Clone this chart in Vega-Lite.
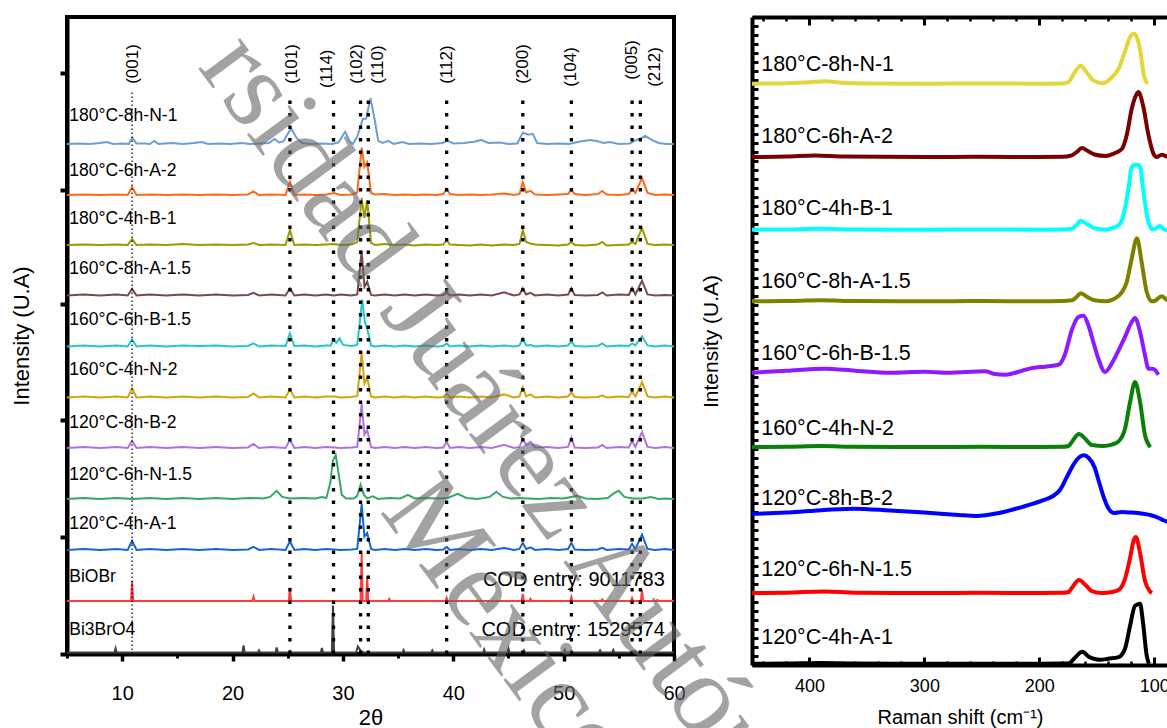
{
"$schema": "https://vega.github.io/schema/vega-lite/v6.json",
"padding": {"left": 8, "top": 11, "right": 0, "bottom": 0},
"config": {"font": "Liberation Sans", "view": {"stroke": null}},
"resolve": {"scale": {"color": "independent"}},
"bounds": "flush",
"spacing": 78,
"datasets": {
 "hkl": [
    {"h":"(001)","x":10.9,"lx":11.0,"zero":0,"top":11.02,"ly":11.18},{"h":"(101)","x":25.2,"lx":25.4,"zero":0,"top":10.94,"ly":11.18},{"h":"(114)","x":29.15,"lx":28.6,"zero":0,"top":10.94,"ly":11.1},{"h":"(102)","x":31.6,"lx":31.3,"zero":0,"top":10.94,"ly":11.18},{"h":"(110)","x":32.3,"lx":33.2,"zero":0,"top":10.94,"ly":11.18},{"h":"(112)","x":39.4,"lx":39.4,"zero":0,"top":10.94,"ly":11.18},{"h":"(200)","x":46.3,"lx":46.3,"zero":0,"top":10.94,"ly":11.18},{"h":"(104)","x":50.7,"lx":50.7,"zero":0,"top":10.94,"ly":11.12},{"h":"(005)","x":56.2,"lx":56.2,"zero":0,"top":10.94,"ly":11.26},{"h":"(212)","x":56.95,"lx":58.3,"zero":0,"top":10.94,"ly":11.12}
 ]
},
"hconcat": [
{
 "width": 607, "height": 637,
 "view": {"stroke": "#000000", "strokeWidth": 4},
 "resolve": {"axis": {"x": "independent", "y": "independent"}},
 "layer": [
  {
   "data": {"values": [
{"s":"a","x":5,"y":10.0},{"s":"a","x":6,"y":10.01},{"s":"a","x":7,"y":10.0},{"s":"a","x":8,"y":10.02},{"s":"a","x":8.6,"y":10.04},{"s":"a","x":9.2,"y":10.0},{"s":"a","x":10,"y":10.01},{"s":"a","x":10.6,"y":10.0},{"s":"a","x":10.9,"y":10.12},{"s":"a","x":11.3,"y":10.01},{"s":"a","x":12,"y":10.01},{"s":"a","x":12.5,"y":10.0},{"s":"a","x":12.9,"y":10.06},{"s":"a","x":13.3,"y":10.0},{"s":"a","x":14.5,"y":10.02},{"s":"a","x":15.5,"y":10.0},{"s":"a","x":16.5,"y":10.02},{"s":"a","x":17.2,"y":10.04},{"s":"a","x":17.8,"y":10.0},{"s":"a","x":18.8,"y":10.01},{"s":"a","x":19.8,"y":10.0},{"s":"a","x":20.8,"y":10.02},{"s":"a","x":21.6,"y":10.0},{"s":"a","x":22.5,"y":10.01},{"s":"a","x":23.3,"y":10.02},{"s":"a","x":23.8,"y":10.1},{"s":"a","x":24.2,"y":10.03},{"s":"a","x":24.6,"y":10.05},{"s":"a","x":25.3,"y":10.31},{"s":"a","x":25.8,"y":10.12},{"s":"a","x":26.3,"y":10.02},{"s":"a","x":27,"y":10.0},{"s":"a","x":28,"y":10.01},{"s":"a","x":29,"y":10.0},{"s":"a","x":29.6,"y":10.03},{"s":"a","x":30.2,"y":10.24},{"s":"a","x":30.6,"y":10.06},{"s":"a","x":30.9,"y":10.0},{"s":"a","x":31.3,"y":10.14},{"s":"a","x":31.8,"y":10.49},{"s":"a","x":32.1,"y":10.5},{"s":"a","x":32.5,"y":10.9},{"s":"a","x":32.9,"y":10.45},{"s":"a","x":33.2,"y":10.06},{"s":"a","x":33.6,"y":10.02},{"s":"a","x":34.1,"y":10.06},{"s":"a","x":34.6,"y":10.0},{"s":"a","x":35.4,"y":10.04},{"s":"a","x":36,"y":10.0},{"s":"a","x":37,"y":10.01},{"s":"a","x":38,"y":10.0},{"s":"a","x":39,"y":10.02},{"s":"a","x":39.5,"y":10.06},{"s":"a","x":40,"y":10.01},{"s":"a","x":41,"y":10.02},{"s":"a","x":42,"y":10.05},{"s":"a","x":42.5,"y":10.08},{"s":"a","x":43.2,"y":10.02},{"s":"a","x":44.2,"y":10.03},{"s":"a","x":45,"y":10.0},{"s":"a","x":45.8,"y":10.01},{"s":"a","x":46.3,"y":10.22},{"s":"a","x":46.8,"y":10.18},{"s":"a","x":47.2,"y":10.2},{"s":"a","x":47.6,"y":10.02},{"s":"a","x":48.5,"y":10.0},{"s":"a","x":49.5,"y":10.01},{"s":"a","x":50.5,"y":10.0},{"s":"a","x":51.5,"y":10.05},{"s":"a","x":52.4,"y":10.08},{"s":"a","x":53,"y":10.06},{"s":"a","x":53.6,"y":10.02},{"s":"a","x":54.2,"y":10.04},{"s":"a","x":55,"y":10.0},{"s":"a","x":56,"y":10.01},{"s":"a","x":56.4,"y":10.06},{"s":"a","x":56.9,"y":10.1},{"s":"a","x":57.4,"y":10.16},{"s":"a","x":58,"y":10.08},{"s":"a","x":58.6,"y":10.02},{"s":"a","x":59.3,"y":10.0},{"s":"a","x":60,"y":10.0},
{"s":"b","x":5,"y":9.0},{"s":"b","x":6.5,"y":9.01},{"s":"b","x":8,"y":9.0},{"s":"b","x":9.5,"y":9.01},{"s":"b","x":10.5,"y":9.0},{"s":"b","x":10.9,"y":9.15},{"s":"b","x":11.3,"y":9.0},{"s":"b","x":12.5,"y":9.01},{"s":"b","x":14,"y":9.0},{"s":"b","x":15.5,"y":9.01},{"s":"b","x":17,"y":9.0},{"s":"b","x":18.5,"y":9.01},{"s":"b","x":20,"y":9.0},{"s":"b","x":21.4,"y":9.01},{"s":"b","x":21.9,"y":9.07},{"s":"b","x":22.4,"y":9.0},{"s":"b","x":23.5,"y":9.01},{"s":"b","x":24.8,"y":9.0},{"s":"b","x":25.2,"y":9.26},{"s":"b","x":25.6,"y":9.0},{"s":"b","x":26.5,"y":9.01},{"s":"b","x":27.5,"y":9.0},{"s":"b","x":28.5,"y":9.01},{"s":"b","x":29.2,"y":9.04},{"s":"b","x":29.8,"y":9.0},{"s":"b","x":30.8,"y":9.01},{"s":"b","x":31.3,"y":9.05},{"s":"b","x":31.7,"y":9.93},{"s":"b","x":31.95,"y":9.55},{"s":"b","x":32.2,"y":9.64},{"s":"b","x":32.55,"y":9.04},{"s":"b","x":32.9,"y":9.01},{"s":"b","x":33.8,"y":9.02},{"s":"b","x":34.7,"y":9.0},{"s":"b","x":35.6,"y":9.01},{"s":"b","x":36.5,"y":9.0},{"s":"b","x":37.5,"y":9.01},{"s":"b","x":38.5,"y":9.0},{"s":"b","x":39.1,"y":9.02},{"s":"b","x":39.4,"y":9.12},{"s":"b","x":39.7,"y":9.02},{"s":"b","x":40.5,"y":9.0},{"s":"b","x":41.5,"y":9.01},{"s":"b","x":42.5,"y":9.0},{"s":"b","x":43.5,"y":9.01},{"s":"b","x":44.6,"y":9.03},{"s":"b","x":45.5,"y":9.0},{"s":"b","x":46.0,"y":9.02},{"s":"b","x":46.3,"y":9.25},{"s":"b","x":46.6,"y":9.05},{"s":"b","x":47.0,"y":9.08},{"s":"b","x":47.4,"y":9.01},{"s":"b","x":48.5,"y":9.0},{"s":"b","x":49.5,"y":9.01},{"s":"b","x":50.4,"y":9.02},{"s":"b","x":50.7,"y":9.1},{"s":"b","x":51.0,"y":9.02},{"s":"b","x":52,"y":9.0},{"s":"b","x":53.1,"y":9.02},{"s":"b","x":53.5,"y":9.08},{"s":"b","x":53.9,"y":9.01},{"s":"b","x":55,"y":9.0},{"s":"b","x":55.9,"y":9.02},{"s":"b","x":56.2,"y":9.12},{"s":"b","x":56.5,"y":9.04},{"s":"b","x":57.1,"y":9.33},{"s":"b","x":57.6,"y":9.04},{"s":"b","x":58.3,"y":9.0},{"s":"b","x":59.2,"y":9.01},{"s":"b","x":60,"y":9.0},
{"s":"c","x":5,"y":8.02},{"s":"c","x":6.5,"y":8.03},{"s":"c","x":8,"y":8.02},{"s":"c","x":9.5,"y":8.03},{"s":"c","x":10.5,"y":8.02},{"s":"c","x":10.9,"y":8.14},{"s":"c","x":11.3,"y":8.02},{"s":"c","x":12.5,"y":8.03},{"s":"c","x":14,"y":8.02},{"s":"c","x":15.5,"y":8.04},{"s":"c","x":17,"y":8.02},{"s":"c","x":18.5,"y":8.03},{"s":"c","x":20,"y":8.02},{"s":"c","x":21.4,"y":8.03},{"s":"c","x":21.9,"y":8.06},{"s":"c","x":22.4,"y":8.02},{"s":"c","x":23.5,"y":8.03},{"s":"c","x":24.8,"y":8.02},{"s":"c","x":25.2,"y":8.31},{"s":"c","x":25.6,"y":8.02},{"s":"c","x":26.5,"y":8.03},{"s":"c","x":27.5,"y":8.02},{"s":"c","x":28.5,"y":8.03},{"s":"c","x":29.2,"y":8.04},{"s":"c","x":29.8,"y":8.02},{"s":"c","x":30.8,"y":8.03},{"s":"c","x":31.3,"y":8.08},{"s":"c","x":31.7,"y":8.94},{"s":"c","x":31.95,"y":8.55},{"s":"c","x":32.2,"y":8.9},{"s":"c","x":32.55,"y":8.06},{"s":"c","x":32.9,"y":8.02},{"s":"c","x":33.8,"y":8.04},{"s":"c","x":34.7,"y":8.02},{"s":"c","x":35.6,"y":8.03},{"s":"c","x":36.5,"y":8.01},{"s":"c","x":37.5,"y":8.03},{"s":"c","x":38.5,"y":8.02},{"s":"c","x":39.1,"y":8.03},{"s":"c","x":39.4,"y":8.12},{"s":"c","x":39.7,"y":8.03},{"s":"c","x":40.5,"y":8.02},{"s":"c","x":41.5,"y":8.01},{"s":"c","x":42.5,"y":8.03},{"s":"c","x":43.5,"y":8.01},{"s":"c","x":44.6,"y":8.03},{"s":"c","x":45.5,"y":8.02},{"s":"c","x":46.0,"y":8.04},{"s":"c","x":46.3,"y":8.31},{"s":"c","x":46.6,"y":8.08},{"s":"c","x":47.0,"y":8.05},{"s":"c","x":47.4,"y":8.03},{"s":"c","x":48.5,"y":8.02},{"s":"c","x":49.5,"y":8.01},{"s":"c","x":50.4,"y":8.03},{"s":"c","x":50.7,"y":8.08},{"s":"c","x":51.0,"y":8.02},{"s":"c","x":52,"y":8.01},{"s":"c","x":53.1,"y":8.03},{"s":"c","x":53.5,"y":8.08},{"s":"c","x":53.9,"y":8.01},{"s":"c","x":55,"y":8.02},{"s":"c","x":55.9,"y":8.03},{"s":"c","x":56.2,"y":8.08},{"s":"c","x":56.5,"y":8.04},{"s":"c","x":57.1,"y":8.35},{"s":"c","x":57.6,"y":8.04},{"s":"c","x":58.3,"y":8.02},{"s":"c","x":59.2,"y":8.03},{"s":"c","x":60,"y":8.02},
{"s":"d","x":5,"y":7.03},{"s":"d","x":6.5,"y":7.05},{"s":"d","x":8,"y":7.03},{"s":"d","x":9.5,"y":7.05},{"s":"d","x":10.5,"y":7.03},{"s":"d","x":10.9,"y":7.16},{"s":"d","x":11.3,"y":7.03},{"s":"d","x":12.5,"y":7.05},{"s":"d","x":14,"y":7.03},{"s":"d","x":15.5,"y":7.05},{"s":"d","x":17,"y":7.03},{"s":"d","x":18.5,"y":7.05},{"s":"d","x":20,"y":7.03},{"s":"d","x":21.4,"y":7.04},{"s":"d","x":21.9,"y":7.08},{"s":"d","x":22.4,"y":7.03},{"s":"d","x":23.5,"y":7.05},{"s":"d","x":24.8,"y":7.03},{"s":"d","x":25.2,"y":7.17},{"s":"d","x":25.6,"y":7.03},{"s":"d","x":26.5,"y":7.05},{"s":"d","x":27.5,"y":7.03},{"s":"d","x":28.5,"y":7.05},{"s":"d","x":29.2,"y":7.03},{"s":"d","x":29.8,"y":7.05},{"s":"d","x":30.8,"y":7.03},{"s":"d","x":31.3,"y":7.05},{"s":"d","x":31.7,"y":7.91},{"s":"d","x":31.95,"y":7.2},{"s":"d","x":32.2,"y":7.3},{"s":"d","x":32.55,"y":7.04},{"s":"d","x":32.9,"y":7.03},{"s":"d","x":33.8,"y":7.05},{"s":"d","x":34.7,"y":7.03},{"s":"d","x":35.6,"y":7.05},{"s":"d","x":36.5,"y":7.03},{"s":"d","x":37.5,"y":7.05},{"s":"d","x":38.5,"y":7.03},{"s":"d","x":39.1,"y":7.04},{"s":"d","x":39.4,"y":7.09},{"s":"d","x":39.7,"y":7.03},{"s":"d","x":40.5,"y":7.05},{"s":"d","x":41.5,"y":7.03},{"s":"d","x":42.5,"y":7.05},{"s":"d","x":43.5,"y":7.03},{"s":"d","x":44.6,"y":7.09},{"s":"d","x":45.5,"y":7.03},{"s":"d","x":46.0,"y":7.05},{"s":"d","x":46.3,"y":7.17},{"s":"d","x":46.6,"y":7.05},{"s":"d","x":47.0,"y":7.08},{"s":"d","x":47.4,"y":7.03},{"s":"d","x":48.5,"y":7.05},{"s":"d","x":49.5,"y":7.03},{"s":"d","x":50.4,"y":7.05},{"s":"d","x":50.7,"y":7.17},{"s":"d","x":51.0,"y":7.04},{"s":"d","x":52,"y":7.03},{"s":"d","x":53.1,"y":7.04},{"s":"d","x":53.5,"y":7.09},{"s":"d","x":53.9,"y":7.03},{"s":"d","x":55,"y":7.05},{"s":"d","x":55.9,"y":7.04},{"s":"d","x":56.2,"y":7.18},{"s":"d","x":56.5,"y":7.05},{"s":"d","x":57.1,"y":7.32},{"s":"d","x":57.6,"y":7.05},{"s":"d","x":58.3,"y":7.03},{"s":"d","x":59.2,"y":7.04},{"s":"d","x":60,"y":7.03},
{"s":"e","x":5,"y":6.03},{"s":"e","x":6.5,"y":6.05},{"s":"e","x":8,"y":6.03},{"s":"e","x":9.5,"y":6.05},{"s":"e","x":10.5,"y":6.03},{"s":"e","x":10.9,"y":6.17},{"s":"e","x":11.3,"y":6.03},{"s":"e","x":12.5,"y":6.05},{"s":"e","x":14,"y":6.03},{"s":"e","x":15.5,"y":6.05},{"s":"e","x":17,"y":6.04},{"s":"e","x":18.5,"y":6.05},{"s":"e","x":20,"y":6.03},{"s":"e","x":21.4,"y":6.04},{"s":"e","x":21.9,"y":6.09},{"s":"e","x":22.4,"y":6.03},{"s":"e","x":23.5,"y":6.05},{"s":"e","x":24.8,"y":6.04},{"s":"e","x":25.2,"y":6.29},{"s":"e","x":25.6,"y":6.04},{"s":"e","x":26.5,"y":6.05},{"s":"e","x":27.5,"y":6.03},{"s":"e","x":28.5,"y":6.05},{"s":"e","x":28.9,"y":6.05},{"s":"e","x":29.15,"y":6.17},{"s":"e","x":29.4,"y":6.1},{"s":"e","x":29.7,"y":6.19},{"s":"e","x":30.0,"y":6.06},{"s":"e","x":30.8,"y":6.04},{"s":"e","x":31.3,"y":6.06},{"s":"e","x":31.75,"y":6.95},{"s":"e","x":32.0,"y":6.5},{"s":"e","x":32.2,"y":6.38},{"s":"e","x":32.55,"y":6.05},{"s":"e","x":32.9,"y":6.03},{"s":"e","x":33.8,"y":6.05},{"s":"e","x":34.7,"y":6.03},{"s":"e","x":35.6,"y":6.05},{"s":"e","x":36.5,"y":6.03},{"s":"e","x":37.5,"y":6.05},{"s":"e","x":38.5,"y":6.03},{"s":"e","x":39.1,"y":6.04},{"s":"e","x":39.4,"y":6.09},{"s":"e","x":39.7,"y":6.03},{"s":"e","x":40.5,"y":6.05},{"s":"e","x":41.5,"y":6.03},{"s":"e","x":42.5,"y":6.05},{"s":"e","x":43.5,"y":6.03},{"s":"e","x":44.6,"y":6.05},{"s":"e","x":45.5,"y":6.03},{"s":"e","x":46.0,"y":6.05},{"s":"e","x":46.3,"y":6.19},{"s":"e","x":46.6,"y":6.05},{"s":"e","x":47.0,"y":6.06},{"s":"e","x":47.4,"y":6.03},{"s":"e","x":48.5,"y":6.05},{"s":"e","x":49.5,"y":6.03},{"s":"e","x":50.4,"y":6.05},{"s":"e","x":50.7,"y":6.13},{"s":"e","x":51.0,"y":6.04},{"s":"e","x":52,"y":6.03},{"s":"e","x":53.1,"y":6.04},{"s":"e","x":53.5,"y":6.09},{"s":"e","x":53.9,"y":6.03},{"s":"e","x":55,"y":6.05},{"s":"e","x":55.9,"y":6.04},{"s":"e","x":56.2,"y":6.09},{"s":"e","x":56.5,"y":6.05},{"s":"e","x":57.1,"y":6.23},{"s":"e","x":57.6,"y":6.05},{"s":"e","x":58.3,"y":6.03},{"s":"e","x":59.2,"y":6.05},{"s":"e","x":60,"y":6.03},
{"s":"f","x":5,"y":5.03},{"s":"f","x":6.5,"y":5.05},{"s":"f","x":8,"y":5.03},{"s":"f","x":9.5,"y":5.05},{"s":"f","x":10.5,"y":5.03},{"s":"f","x":10.9,"y":5.21},{"s":"f","x":11.3,"y":5.03},{"s":"f","x":12.5,"y":5.05},{"s":"f","x":14,"y":5.03},{"s":"f","x":15.5,"y":5.05},{"s":"f","x":17,"y":5.03},{"s":"f","x":18.5,"y":5.05},{"s":"f","x":20,"y":5.03},{"s":"f","x":21.4,"y":5.04},{"s":"f","x":21.9,"y":5.11},{"s":"f","x":22.4,"y":5.03},{"s":"f","x":23.5,"y":5.05},{"s":"f","x":24.8,"y":5.03},{"s":"f","x":25.2,"y":5.19},{"s":"f","x":25.6,"y":5.03},{"s":"f","x":26.5,"y":5.05},{"s":"f","x":27.5,"y":5.03},{"s":"f","x":28.5,"y":5.05},{"s":"f","x":29.2,"y":5.05},{"s":"f","x":29.8,"y":5.03},{"s":"f","x":30.8,"y":5.04},{"s":"f","x":31.3,"y":5.06},{"s":"f","x":31.7,"y":5.91},{"s":"f","x":31.95,"y":5.3},{"s":"f","x":32.2,"y":5.42},{"s":"f","x":32.55,"y":5.05},{"s":"f","x":32.9,"y":5.03},{"s":"f","x":33.8,"y":5.05},{"s":"f","x":34.7,"y":5.03},{"s":"f","x":35.6,"y":5.05},{"s":"f","x":36.5,"y":5.03},{"s":"f","x":37.5,"y":5.05},{"s":"f","x":38.5,"y":5.03},{"s":"f","x":39.1,"y":5.04},{"s":"f","x":39.4,"y":5.11},{"s":"f","x":39.7,"y":5.03},{"s":"f","x":40.5,"y":5.05},{"s":"f","x":41.5,"y":5.03},{"s":"f","x":42.5,"y":5.05},{"s":"f","x":43.5,"y":5.03},{"s":"f","x":44.6,"y":5.09},{"s":"f","x":45.5,"y":5.03},{"s":"f","x":46.0,"y":5.05},{"s":"f","x":46.3,"y":5.23},{"s":"f","x":46.6,"y":5.05},{"s":"f","x":47.0,"y":5.09},{"s":"f","x":47.4,"y":5.03},{"s":"f","x":48.5,"y":5.05},{"s":"f","x":49.5,"y":5.03},{"s":"f","x":50.4,"y":5.05},{"s":"f","x":50.7,"y":5.13},{"s":"f","x":51.0,"y":5.04},{"s":"f","x":52,"y":5.03},{"s":"f","x":53.1,"y":5.04},{"s":"f","x":53.5,"y":5.07},{"s":"f","x":53.9,"y":5.03},{"s":"f","x":55,"y":5.05},{"s":"f","x":55.9,"y":5.04},{"s":"f","x":56.2,"y":5.15},{"s":"f","x":56.5,"y":5.05},{"s":"f","x":57.1,"y":5.33},{"s":"f","x":57.6,"y":5.05},{"s":"f","x":58.3,"y":5.03},{"s":"f","x":59.2,"y":5.05},{"s":"f","x":60,"y":5.03},
{"s":"g","x":5,"y":4.04},{"s":"g","x":6.5,"y":4.06},{"s":"g","x":8,"y":4.04},{"s":"g","x":9.5,"y":4.06},{"s":"g","x":10.5,"y":4.04},{"s":"g","x":10.9,"y":4.18},{"s":"g","x":11.3,"y":4.04},{"s":"g","x":12.5,"y":4.06},{"s":"g","x":14,"y":4.04},{"s":"g","x":15.5,"y":4.06},{"s":"g","x":17,"y":4.04},{"s":"g","x":18.5,"y":4.06},{"s":"g","x":20,"y":4.04},{"s":"g","x":21.4,"y":4.05},{"s":"g","x":21.9,"y":4.12},{"s":"g","x":22.4,"y":4.04},{"s":"g","x":23.5,"y":4.06},{"s":"g","x":24.8,"y":4.04},{"s":"g","x":25.2,"y":4.2},{"s":"g","x":25.6,"y":4.04},{"s":"g","x":26.5,"y":4.06},{"s":"g","x":27.5,"y":4.04},{"s":"g","x":28.5,"y":4.06},{"s":"g","x":29.2,"y":4.05},{"s":"g","x":29.8,"y":4.04},{"s":"g","x":30.8,"y":4.05},{"s":"g","x":31.3,"y":4.06},{"s":"g","x":31.7,"y":4.9},{"s":"g","x":31.95,"y":4.3},{"s":"g","x":32.2,"y":4.39},{"s":"g","x":32.55,"y":4.06},{"s":"g","x":32.9,"y":4.04},{"s":"g","x":33.8,"y":4.06},{"s":"g","x":34.7,"y":4.04},{"s":"g","x":35.6,"y":4.06},{"s":"g","x":36.5,"y":4.04},{"s":"g","x":37.5,"y":4.06},{"s":"g","x":38.5,"y":4.04},{"s":"g","x":39.1,"y":4.05},{"s":"g","x":39.4,"y":4.16},{"s":"g","x":39.7,"y":4.04},{"s":"g","x":40.5,"y":4.06},{"s":"g","x":41.5,"y":4.04},{"s":"g","x":42.5,"y":4.06},{"s":"g","x":43.5,"y":4.04},{"s":"g","x":44.6,"y":4.1},{"s":"g","x":45.5,"y":4.04},{"s":"g","x":46.0,"y":4.06},{"s":"g","x":46.3,"y":4.22},{"s":"g","x":46.6,"y":4.1},{"s":"g","x":47.0,"y":4.16},{"s":"g","x":47.4,"y":4.05},{"s":"g","x":48.5,"y":4.06},{"s":"g","x":49.5,"y":4.04},{"s":"g","x":50.4,"y":4.06},{"s":"g","x":50.7,"y":4.24},{"s":"g","x":51.0,"y":4.05},{"s":"g","x":52,"y":4.04},{"s":"g","x":53.1,"y":4.05},{"s":"g","x":53.5,"y":4.1},{"s":"g","x":53.9,"y":4.04},{"s":"g","x":55,"y":4.06},{"s":"g","x":55.9,"y":4.05},{"s":"g","x":56.2,"y":4.18},{"s":"g","x":56.5,"y":4.06},{"s":"g","x":57.1,"y":4.35},{"s":"g","x":57.6,"y":4.06},{"s":"g","x":58.3,"y":4.04},{"s":"g","x":59.2,"y":4.06},{"s":"g","x":60,"y":4.04},
{"s":"h","x":5,"y":3.04},{"s":"h","x":6.5,"y":3.06},{"s":"h","x":8,"y":3.04},{"s":"h","x":9.5,"y":3.06},{"s":"h","x":11,"y":3.04},{"s":"h","x":12.5,"y":3.06},{"s":"h","x":14,"y":3.04},{"s":"h","x":15.5,"y":3.06},{"s":"h","x":17,"y":3.04},{"s":"h","x":18.5,"y":3.06},{"s":"h","x":20,"y":3.04},{"s":"h","x":21.5,"y":3.06},{"s":"h","x":22.8,"y":3.05},{"s":"h","x":23.4,"y":3.08},{"s":"h","x":24.0,"y":3.2},{"s":"h","x":24.5,"y":3.08},{"s":"h","x":25.2,"y":3.05},{"s":"h","x":26.5,"y":3.06},{"s":"h","x":27.5,"y":3.05},{"s":"h","x":28.1,"y":3.08},{"s":"h","x":28.5,"y":3.06},{"s":"h","x":28.85,"y":3.35},{"s":"h","x":29.1,"y":3.8},{"s":"h","x":29.35,"y":3.9},{"s":"h","x":29.6,"y":3.55},{"s":"h","x":29.9,"y":3.12},{"s":"h","x":30.3,"y":3.05},{"s":"h","x":31.0,"y":3.05},{"s":"h","x":31.3,"y":3.1},{"s":"h","x":31.6,"y":3.32},{"s":"h","x":31.9,"y":3.12},{"s":"h","x":32.2,"y":3.05},{"s":"h","x":32.7,"y":3.09},{"s":"h","x":33.2,"y":3.04},{"s":"h","x":34.2,"y":3.06},{"s":"h","x":35.2,"y":3.05},{"s":"h","x":35.9,"y":3.12},{"s":"h","x":36.5,"y":3.05},{"s":"h","x":37.5,"y":3.06},{"s":"h","x":38.5,"y":3.05},{"s":"h","x":39.5,"y":3.06},{"s":"h","x":40.4,"y":3.14},{"s":"h","x":41.2,"y":3.06},{"s":"h","x":42.2,"y":3.04},{"s":"h","x":43.3,"y":3.08},{"s":"h","x":43.9,"y":3.18},{"s":"h","x":44.5,"y":3.08},{"s":"h","x":45.2,"y":3.05},{"s":"h","x":46.0,"y":3.06},{"s":"h","x":46.8,"y":3.05},{"s":"h","x":47.8,"y":3.04},{"s":"h","x":48.8,"y":3.06},{"s":"h","x":50.0,"y":3.05},{"s":"h","x":51.2,"y":3.1},{"s":"h","x":52.0,"y":3.05},{"s":"h","x":53.0,"y":3.04},{"s":"h","x":54.0,"y":3.06},{"s":"h","x":54.6,"y":3.16},{"s":"h","x":55.0,"y":3.2},{"s":"h","x":55.5,"y":3.08},{"s":"h","x":56.3,"y":3.05},{"s":"h","x":57.2,"y":3.05},{"s":"h","x":57.9,"y":3.08},{"s":"h","x":58.6,"y":3.04},{"s":"h","x":59.3,"y":3.05},{"s":"h","x":60,"y":3.04},
{"s":"i","x":5,"y":2.04},{"s":"i","x":6.5,"y":2.06},{"s":"i","x":8,"y":2.04},{"s":"i","x":9.5,"y":2.06},{"s":"i","x":10.5,"y":2.04},{"s":"i","x":10.9,"y":2.22},{"s":"i","x":11.3,"y":2.04},{"s":"i","x":12.5,"y":2.06},{"s":"i","x":14,"y":2.04},{"s":"i","x":15.5,"y":2.06},{"s":"i","x":17,"y":2.04},{"s":"i","x":18.5,"y":2.06},{"s":"i","x":20,"y":2.04},{"s":"i","x":21.4,"y":2.05},{"s":"i","x":21.9,"y":2.1},{"s":"i","x":22.4,"y":2.04},{"s":"i","x":23.5,"y":2.06},{"s":"i","x":24.8,"y":2.04},{"s":"i","x":25.2,"y":2.21},{"s":"i","x":25.6,"y":2.04},{"s":"i","x":26.5,"y":2.06},{"s":"i","x":27.5,"y":2.04},{"s":"i","x":28.5,"y":2.06},{"s":"i","x":29.2,"y":2.05},{"s":"i","x":29.8,"y":2.04},{"s":"i","x":30.8,"y":2.05},{"s":"i","x":31.3,"y":2.06},{"s":"i","x":31.7,"y":2.94},{"s":"i","x":31.95,"y":2.3},{"s":"i","x":32.2,"y":2.37},{"s":"i","x":32.55,"y":2.06},{"s":"i","x":32.9,"y":2.04},{"s":"i","x":33.8,"y":2.06},{"s":"i","x":34.7,"y":2.04},{"s":"i","x":35.6,"y":2.06},{"s":"i","x":36.5,"y":2.04},{"s":"i","x":37.5,"y":2.06},{"s":"i","x":38.5,"y":2.04},{"s":"i","x":39.1,"y":2.05},{"s":"i","x":39.4,"y":2.1},{"s":"i","x":39.7,"y":2.04},{"s":"i","x":40.5,"y":2.06},{"s":"i","x":41.5,"y":2.04},{"s":"i","x":42.5,"y":2.06},{"s":"i","x":43.5,"y":2.04},{"s":"i","x":44.6,"y":2.08},{"s":"i","x":45.5,"y":2.04},{"s":"i","x":46.0,"y":2.06},{"s":"i","x":46.3,"y":2.18},{"s":"i","x":46.6,"y":2.06},{"s":"i","x":47.0,"y":2.09},{"s":"i","x":47.4,"y":2.04},{"s":"i","x":48.5,"y":2.06},{"s":"i","x":49.5,"y":2.04},{"s":"i","x":50.4,"y":2.06},{"s":"i","x":50.7,"y":2.18},{"s":"i","x":51.0,"y":2.05},{"s":"i","x":52,"y":2.04},{"s":"i","x":53.1,"y":2.05},{"s":"i","x":53.5,"y":2.08},{"s":"i","x":53.9,"y":2.04},{"s":"i","x":55,"y":2.06},{"s":"i","x":55.9,"y":2.05},{"s":"i","x":56.2,"y":2.16},{"s":"i","x":56.5,"y":2.06},{"s":"i","x":57.1,"y":2.34},{"s":"i","x":57.6,"y":2.06},{"s":"i","x":58.3,"y":2.04},{"s":"i","x":59.2,"y":2.06},{"s":"i","x":60,"y":2.04},
{"s":"j","x":5,"y":1.04},{"s":"j","x":10.8,"y":1.04},{"s":"j","x":10.9,"y":1.43},{"s":"j","x":11.0,"y":1.04},{"s":"j","x":21.8,"y":1.04},{"s":"j","x":21.9,"y":1.12},{"s":"j","x":22.0,"y":1.04},{"s":"j","x":25.1,"y":1.04},{"s":"j","x":25.2,"y":1.3},{"s":"j","x":25.3,"y":1.04},{"s":"j","x":31.6,"y":1.04},{"s":"j","x":31.7,"y":1.98},{"s":"j","x":31.8,"y":1.04},{"s":"j","x":32.1,"y":1.04},{"s":"j","x":32.2,"y":1.52},{"s":"j","x":32.3,"y":1.04},{"s":"j","x":34.1,"y":1.04},{"s":"j","x":34.2,"y":1.08},{"s":"j","x":34.3,"y":1.04},{"s":"j","x":39.3,"y":1.04},{"s":"j","x":39.4,"y":1.1},{"s":"j","x":39.5,"y":1.04},{"s":"j","x":46.2,"y":1.04},{"s":"j","x":46.3,"y":1.18},{"s":"j","x":46.4,"y":1.04},{"s":"j","x":46.9,"y":1.04},{"s":"j","x":47.0,"y":1.08},{"s":"j","x":47.1,"y":1.04},{"s":"j","x":50.6,"y":1.04},{"s":"j","x":50.7,"y":1.12},{"s":"j","x":50.8,"y":1.04},{"s":"j","x":53.4,"y":1.04},{"s":"j","x":53.5,"y":1.07},{"s":"j","x":53.6,"y":1.04},{"s":"j","x":56.1,"y":1.04},{"s":"j","x":56.2,"y":1.1},{"s":"j","x":56.3,"y":1.04},{"s":"j","x":57.0,"y":1.04},{"s":"j","x":57.1,"y":1.26},{"s":"j","x":57.2,"y":1.04},{"s":"j","x":58.4,"y":1.04},{"s":"j","x":58.5,"y":1.06},{"s":"j","x":58.6,"y":1.04},{"s":"j","x":60,"y":1.04},
{"s":"k","x":5,"y":0.03},{"s":"k","x":9.3,"y":0.03},{"s":"k","x":9.4,"y":0.11},{"s":"k","x":9.5,"y":0.03},{"s":"k","x":20.9,"y":0.03},{"s":"k","x":21.0,"y":0.17},{"s":"k","x":21.1,"y":0.03},{"s":"k","x":22.3,"y":0.03},{"s":"k","x":22.4,"y":0.07},{"s":"k","x":22.5,"y":0.03},{"s":"k","x":23.9,"y":0.03},{"s":"k","x":24.0,"y":0.13},{"s":"k","x":24.1,"y":0.03},{"s":"k","x":25.1,"y":0.03},{"s":"k","x":25.2,"y":0.06},{"s":"k","x":25.3,"y":0.03},{"s":"k","x":28.0,"y":0.03},{"s":"k","x":28.1,"y":0.12},{"s":"k","x":28.2,"y":0.03},{"s":"k","x":29.0,"y":0.03},{"s":"k","x":29.1,"y":0.95},{"s":"k","x":29.2,"y":0.03},{"s":"k","x":31.2,"y":0.03},{"s":"k","x":31.35,"y":0.15},{"s":"k","x":31.5,"y":0.1},{"s":"k","x":31.65,"y":0.05},{"s":"k","x":31.9,"y":0.03},{"s":"k","x":35.4,"y":0.03},{"s":"k","x":35.5,"y":0.08},{"s":"k","x":35.6,"y":0.03},{"s":"k","x":38.0,"y":0.03},{"s":"k","x":38.1,"y":0.07},{"s":"k","x":38.2,"y":0.03},{"s":"k","x":42.7,"y":0.03},{"s":"k","x":42.8,"y":0.09},{"s":"k","x":42.9,"y":0.03},{"s":"k","x":44.9,"y":0.03},{"s":"k","x":45.0,"y":0.11},{"s":"k","x":45.1,"y":0.03},{"s":"k","x":46.3,"y":0.03},{"s":"k","x":46.4,"y":0.07},{"s":"k","x":46.5,"y":0.03},{"s":"k","x":50.0,"y":0.03},{"s":"k","x":50.1,"y":0.08},{"s":"k","x":50.2,"y":0.03},{"s":"k","x":53.2,"y":0.03},{"s":"k","x":53.3,"y":0.07},{"s":"k","x":53.4,"y":0.03},{"s":"k","x":54.4,"y":0.03},{"s":"k","x":54.5,"y":0.08},{"s":"k","x":54.6,"y":0.03},{"s":"k","x":56.4,"y":0.03},{"s":"k","x":56.5,"y":0.06},{"s":"k","x":56.6,"y":0.03},{"s":"k","x":60,"y":0.03}
   ]},
   "mark": {"type": "line", "strokeWidth": 2, "interpolate": "linear"},
   "encoding": {
    "x": {"field": "x", "type": "quantitative", "scale": {"domain": [5, 60], "nice": false, "zero": false},
      "axis": {"orient": "bottom", "values": [10, 20, 30, 40, 50, 60], "tickSize": 7, "tickWidth": 3.5, "tickColor": "#000", "domainColor": "#000", "domainWidth": 4, "grid": false, "labelFontSize": 20, "labelColor": "#000", "labelPadding": 22, "labelFlush": false, "title": "2θ", "titleFontSize": 22, "titleFontWeight": "normal", "titleColor": "#000", "titlePadding": 4}},
    "y": {"field": "y", "type": "quantitative", "scale": {"domain": [0, 12.49], "nice": false, "zero": false},
      "axis": {"orient": "left", "values": [0, 2.29, 4.58, 6.87, 9.1, 11.4], "tickSize": 7, "tickWidth": 4, "tickColor": "#000", "domainColor": "#000", "domainWidth": 4, "grid": false, "labels": false, "title": "Intensity (U.A)", "titleFontSize": 22, "titleFontWeight": "normal", "titleColor": "#000", "titlePadding": 25}},
    "color": {"field": "s", "type": "nominal", "legend": null,
      "scale": {"domain": ["a","b","c","d","e","f","g","h","i","j","k"], "range": ["#6b9fd3","#ff6a1a","#9a9a00","#7a4a4a","#25c7c7","#d6a30c","#b070e0","#35a866","#1565d8","#ff3c3c","#404040"]}}
   }
  },
  {
   "data": {"name": "hkl"},
   "transform": [{"filter": "datum.h !== '(001)'"}],
   "mark": {"type": "rule", "color": "#000", "strokeWidth": 3.3, "strokeDash": [3.5, 9]},
   "encoding": {
    "x": {"field": "x", "type": "quantitative", "axis": {"orient": "bottom", "values": [5, 15, 25, 35, 45, 55], "tickSize": 4, "tickWidth": 3, "tickColor": "#000", "domain": false, "labels": false, "grid": false, "title": null}},
    "y": {"field": "zero", "type": "quantitative", "axis": null},
    "y2": {"field": "top"}
   }
  },
  {
   "data": {"name": "hkl"},
   "transform": [{"filter": "datum.h === '(001)'"}],
   "mark": {"type": "rule", "color": "#000", "strokeWidth": 1.2, "strokeDash": [1.5, 2.5]},
   "encoding": {
    "x": {"field": "x", "type": "quantitative", "axis": null},
    "y": {"field": "zero", "type": "quantitative", "axis": null},
    "y2": {"field": "top"}
   }
  },
  {
   "data": {"name": "hkl"},
   "mark": {"type": "text", "angle": 270, "align": "left", "baseline": "middle", "fontSize": 17, "color": "#000"},
   "encoding": {
    "x": {"field": "lx", "type": "quantitative", "axis": null},
    "y": {"field": "ly", "type": "quantitative", "axis": null},
    "text": {"field": "h", "type": "nominal"}
   }
  },
  {
   "data": {"values": [
    {"name":"180°C-8h-N-1","y":10.55},{"name":"180°C-6h-A-2","y":9.47},{"name":"180°C-4h-B-1","y":8.53},{"name":"160°C-8h-A-1.5","y":7.55},{"name":"160°C-6h-B-1.5","y":6.55},{"name":"160°C-4h-N-2","y":5.57},{"name":"120°C-8h-B-2","y":4.53},{"name":"120°C-6h-N-1.5","y":3.51},{"name":"120°C-4h-A-1","y":2.55},{"name":"BiOBr","y":1.51},{"name":"Bi3BrO4","y":0.47}
   ]},
   "mark": {"type": "text", "align": "left", "baseline": "middle", "fontSize": 17.5, "color": "#000"},
   "encoding": {
    "x": {"datum": 5.2, "type": "quantitative", "axis": null},
    "y": {"field": "y", "type": "quantitative", "axis": null},
    "text": {"field": "name", "type": "nominal"}
   }
  },
  {
   "data": {"values": [{"t":"COD entry: 9011783","y":1.45},{"t":"COD entry: 1529574","y":0.47}]},
   "mark": {"type": "text", "align": "right", "baseline": "middle", "fontSize": 20, "color": "#000"},
   "encoding": {
    "x": {"datum": 59.17, "type": "quantitative", "axis": null},
    "y": {"field": "y", "type": "quantitative", "axis": null},
    "text": {"field": "t", "type": "nominal"}
   }
  },
  {
   "data": {"values": [{"w":"rsidad Juárez Autónoma","x":16.78,"y":11.51},{"w":"México","x":33.26,"y":2.8}]},
   "mark": {"type": "text", "align": "left", "baseline": "alphabetic", "angle": 53.5, "font": "Liberation Serif", "fontSize": 113, "color": "#666666", "opacity": 0.6},
   "encoding": {
    "x": {"field": "x", "type": "quantitative", "axis": null},
    "y": {"field": "y", "type": "quantitative", "axis": null},
    "text": {"field": "w", "type": "nominal"}
   }
  }
 ]
},
{
 "width": 416, "height": 648,
 "resolve": {"axis": {"x": "independent", "y": "independent"}},
 "layer": [
  {
   "data": {"values": [
{"s":"r1","v":450,"y":64.59},{"s":"r1","v":420,"y":64.65},{"s":"r1","v":400,"y":64.76},{"s":"r1","v":387,"y":64.86},{"s":"r1","v":372,"y":64.7},{"s":"r1","v":350,"y":64.62},{"s":"r1","v":300,"y":64.59},{"s":"r1","v":250,"y":64.62},{"s":"r1","v":200,"y":64.59},{"s":"r1","v":180,"y":64.62},{"s":"r1","v":174.6,"y":64.78},{"s":"r1","v":169,"y":65.89},{"s":"r1","v":164,"y":66.59},{"s":"r1","v":159,"y":65.89},{"s":"r1","v":153,"y":64.96},{"s":"r1","v":145,"y":64.65},{"s":"r1","v":138,"y":65.15},{"s":"r1","v":131,"y":66.26},{"s":"r1","v":125.6,"y":68.11},{"s":"r1","v":121,"y":69.78},{"s":"r1","v":117.6,"y":70.15},{"s":"r1","v":115,"y":69.7},{"s":"r1","v":112,"y":68.11},{"s":"r1","v":109,"y":65.51},{"s":"r1","v":106,"y":64.59},
{"s":"r2","v":450,"y":56.44},{"s":"r2","v":420,"y":56.5},{"s":"r2","v":395,"y":56.61},{"s":"r2","v":370,"y":56.5},{"s":"r2","v":300,"y":56.44},{"s":"r2","v":250,"y":56.47},{"s":"r2","v":200,"y":56.44},{"s":"r2","v":180,"y":56.46},{"s":"r2","v":171.7,"y":56.63},{"s":"r2","v":167.4,"y":57.0},{"s":"r2","v":163,"y":57.44},{"s":"r2","v":157.7,"y":57.11},{"s":"r2","v":152,"y":56.72},{"s":"r2","v":142,"y":56.55},{"s":"r2","v":135.5,"y":56.81},{"s":"r2","v":128,"y":57.36},{"s":"r2","v":123.9,"y":58.88},{"s":"r2","v":119.6,"y":61.77},{"s":"r2","v":116.5,"y":63.11},{"s":"r2","v":113.8,"y":63.66},{"s":"r2","v":109.8,"y":62.22},{"s":"r2","v":105,"y":58.88},{"s":"r2","v":100.7,"y":56.81},{"s":"r2","v":98,"y":56.44},{"s":"r2","v":93.5,"y":56.7},{"s":"r2","v":89,"y":56.5},{"s":"r2","v":86,"y":56.44},
{"s":"r3","v":450,"y":48.37},{"s":"r3","v":420,"y":48.4},{"s":"r3","v":390,"y":48.46},{"s":"r3","v":360,"y":48.4},{"s":"r3","v":300,"y":48.37},{"s":"r3","v":250,"y":48.39},{"s":"r3","v":200,"y":48.37},{"s":"r3","v":180,"y":48.39},{"s":"r3","v":171.7,"y":48.48},{"s":"r3","v":167.4,"y":48.93},{"s":"r3","v":164,"y":49.37},{"s":"r3","v":157.7,"y":48.93},{"s":"r3","v":152,"y":48.54},{"s":"r3","v":142,"y":48.37},{"s":"r3","v":135.5,"y":48.59},{"s":"r3","v":131,"y":48.85},{"s":"r3","v":126.8,"y":49.97},{"s":"r3","v":122.4,"y":52.93},{"s":"r3","v":119.6,"y":55.34},{"s":"r3","v":116.7,"y":55.59},{"s":"r3","v":112.3,"y":55.48},{"s":"r3","v":109.8,"y":52.93},{"s":"r3","v":105,"y":49.23},{"s":"r3","v":102,"y":48.43},{"s":"r3","v":98,"y":48.54},{"s":"r3","v":95,"y":48.78},{"s":"r3","v":91,"y":48.37},{"s":"r3","v":86,"y":48.37},
{"s":"r4","v":450,"y":40.41},{"s":"r4","v":420,"y":40.44},{"s":"r4","v":390,"y":40.52},{"s":"r4","v":360,"y":40.44},{"s":"r4","v":300,"y":40.41},{"s":"r4","v":250,"y":40.44},{"s":"r4","v":200,"y":40.41},{"s":"r4","v":180,"y":40.44},{"s":"r4","v":171.7,"y":40.52},{"s":"r4","v":167.4,"y":40.91},{"s":"r4","v":164,"y":41.3},{"s":"r4","v":157.7,"y":40.85},{"s":"r4","v":152,"y":40.52},{"s":"r4","v":142,"y":40.41},{"s":"r4","v":135.5,"y":40.63},{"s":"r4","v":128,"y":41.44},{"s":"r4","v":123.9,"y":42.55},{"s":"r4","v":119.6,"y":45.14},{"s":"r4","v":115,"y":47.41},{"s":"r4","v":110.9,"y":44.74},{"s":"r4","v":106.5,"y":41.44},{"s":"r4","v":102,"y":40.41},{"s":"r4","v":99.3,"y":40.47},{"s":"r4","v":93.5,"y":40.97},{"s":"r4","v":89,"y":40.58},{"s":"r4","v":86,"y":40.52},
{"s":"r5","v":450,"y":32.48},{"s":"r5","v":420,"y":32.7},{"s":"r5","v":387,"y":32.92},{"s":"r5","v":360,"y":32.7},{"s":"r5","v":330,"y":32.48},{"s":"r5","v":300,"y":32.59},{"s":"r5","v":280,"y":32.48},{"s":"r5","v":247,"y":32.65},{"s":"r5","v":240,"y":32.37},{"s":"r5","v":229,"y":32.26},{"s":"r5","v":215,"y":32.7},{"s":"r5","v":206,"y":33.0},{"s":"r5","v":195,"y":33.15},{"s":"r5","v":183,"y":33.37},{"s":"r5","v":177.8,"y":34.45},{"s":"r5","v":171.7,"y":37.22},{"s":"r5","v":166,"y":38.67},{"s":"r5","v":161.6,"y":38.81},{"s":"r5","v":157.3,"y":37.75},{"s":"r5","v":153,"y":35.89},{"s":"r5","v":148.6,"y":34.04},{"s":"r5","v":142.8,"y":32.56},{"s":"r5","v":137,"y":33.48},{"s":"r5","v":131,"y":34.97},{"s":"r5","v":125.4,"y":36.45},{"s":"r5","v":119.6,"y":38.11},{"s":"r5","v":116.7,"y":38.56},{"s":"r5","v":112.3,"y":37.0},{"s":"r5","v":108,"y":34.41},{"s":"r5","v":105,"y":32.92},{"s":"r5","v":100.7,"y":32.89},{"s":"r5","v":96.4,"y":32.26},
{"s":"r6","v":450,"y":24.22},{"s":"r6","v":420,"y":24.25},{"s":"r6","v":390,"y":24.33},{"s":"r6","v":360,"y":24.25},{"s":"r6","v":300,"y":24.22},{"s":"r6","v":250,"y":24.24},{"s":"r6","v":200,"y":24.22},{"s":"r6","v":180,"y":24.24},{"s":"r6","v":174.6,"y":24.33},{"s":"r6","v":171.7,"y":24.78},{"s":"r6","v":165.5,"y":25.66},{"s":"r6","v":160,"y":25.14},{"s":"r6","v":154.3,"y":24.44},{"s":"r6","v":144,"y":24.33},{"s":"r6","v":137,"y":24.48},{"s":"r6","v":131,"y":24.85},{"s":"r6","v":125.4,"y":26.25},{"s":"r6","v":121,"y":29.22},{"s":"r6","v":116.7,"y":31.44},{"s":"r6","v":112.3,"y":29.22},{"s":"r6","v":108,"y":25.52},{"s":"r6","v":103.3,"y":24.22},
{"s":"r7","v":450,"y":16.81},{"s":"r7","v":420,"y":16.94},{"s":"r7","v":400,"y":17.11},{"s":"r7","v":362,"y":17.37},{"s":"r7","v":330,"y":17.17},{"s":"r7","v":300,"y":16.94},{"s":"r7","v":270,"y":16.67},{"s":"r7","v":255,"y":16.56},{"s":"r7","v":235,"y":16.89},{"s":"r7","v":212,"y":17.67},{"s":"r7","v":197,"y":18.3},{"s":"r7","v":188,"y":18.78},{"s":"r7","v":182,"y":19.44},{"s":"r7","v":176,"y":20.89},{"s":"r7","v":170,"y":22.33},{"s":"r7","v":165,"y":23.11},{"s":"r7","v":161,"y":23.3},{"s":"r7","v":157,"y":23.0},{"s":"r7","v":152,"y":22.0},{"s":"r7","v":148,"y":20.33},{"s":"r7","v":144,"y":18.67},{"s":"r7","v":140,"y":17.44},{"s":"r7","v":135,"y":16.89},{"s":"r7","v":128,"y":17.0},{"s":"r7","v":120,"y":16.94},{"s":"r7","v":110,"y":16.81},{"s":"r7","v":102,"y":16.61},{"s":"r7","v":96,"y":16.33},{"s":"r7","v":92,"y":16.08},{"s":"r7","v":88,"y":15.89},
{"s":"r8","v":450,"y":8.0},{"s":"r8","v":420,"y":8.03},{"s":"r8","v":387,"y":8.17},{"s":"r8","v":360,"y":8.03},{"s":"r8","v":300,"y":8.0},{"s":"r8","v":250,"y":8.02},{"s":"r8","v":200,"y":8.0},{"s":"r8","v":180,"y":8.02},{"s":"r8","v":174.6,"y":8.11},{"s":"r8","v":171.7,"y":8.56},{"s":"r8","v":165.5,"y":9.44},{"s":"r8","v":160,"y":8.92},{"s":"r8","v":154.3,"y":8.22},{"s":"r8","v":145,"y":8.0},{"s":"r8","v":137,"y":8.11},{"s":"r8","v":131,"y":8.33},{"s":"r8","v":125.4,"y":9.56},{"s":"r8","v":121,"y":11.89},{"s":"r8","v":118,"y":13.78},{"s":"r8","v":116,"y":14.22},{"s":"r8","v":112.3,"y":12.44},{"s":"r8","v":108,"y":9.33},{"s":"r8","v":104,"y":8.22},{"s":"r8","v":102,"y":8.0},
{"s":"r9","v":450,"y":0.14},{"s":"r9","v":420,"y":0.17},{"s":"r9","v":390,"y":0.23},{"s":"r9","v":360,"y":0.17},{"s":"r9","v":300,"y":0.14},{"s":"r9","v":250,"y":0.14},{"s":"r9","v":200,"y":0.14},{"s":"r9","v":180,"y":0.16},{"s":"r9","v":174,"y":0.2},{"s":"r9","v":169,"y":0.81},{"s":"r9","v":162.6,"y":1.47},{"s":"r9","v":157,"y":0.92},{"s":"r9","v":151,"y":0.64},{"s":"r9","v":147,"y":0.58},{"s":"r9","v":140,"y":0.7},{"s":"r9","v":131,"y":0.88},{"s":"r9","v":125.4,"y":1.81},{"s":"r9","v":121,"y":4.36},{"s":"r9","v":116.7,"y":6.58},{"s":"r9","v":112.3,"y":6.81},{"s":"r9","v":109.8,"y":4.77},{"s":"r9","v":106.5,"y":1.03},{"s":"r9","v":104.6,"y":0.14}
   ]},
   "mark": {"type": "line", "strokeWidth": 4, "interpolate": "monotone"},
   "encoding": {
    "x": {"field": "v", "type": "quantitative", "scale": {"domain": [88, 450], "reverse": true, "nice": false, "zero": false},
      "axis": {"orient": "bottom", "values": [400, 300, 200, 100], "tickSize": -8, "tickWidth": 3, "tickColor": "#000", "domainColor": "#000", "domainWidth": 4, "grid": false, "labelFontSize": 18, "labelColor": "#000", "labelPadding": 20, "labelFlush": false, "title": "Raman shift (cm⁻¹)", "titleFontSize": 20, "titleFontWeight": "normal", "titleColor": "#000", "titlePadding": 12}},
    "y": {"field": "y", "type": "quantitative", "scale": {"domain": [0, 72], "nice": false, "zero": false},
      "axis": {"orient": "left", "tickCount": 72, "tickSize": -6, "tickWidth": 3, "tickColor": "#000", "domainColor": "#000", "domainWidth": 4, "grid": false, "labels": false, "title": "Intensity (U.A)", "titleFontSize": 21, "titleFontWeight": "normal", "titleColor": "#000", "titlePadding": 29}},
    "color": {"field": "s", "type": "nominal", "legend": null,
      "scale": {"domain": ["r1","r2","r3","r4","r5","r6","r7","r8","r9"], "range": ["#e3d63a","#7a0000","#00ffff","#808000","#8f1aff","#0a7f0a","#0000ff","#ff0000","#000000"]}}
   }
  },
  {
   "data": {"values": [
    {"name":"180°C-8h-N-1","y":66.67},{"name":"180°C-6h-A-2","y":58.67},{"name":"180°C-4h-B-1","y":50.7},{"name":"160°C-8h-A-1.5","y":42.56},{"name":"160°C-6h-B-1.5","y":34.59},{"name":"160°C-4h-N-2","y":26.26},{"name":"120°C-8h-B-2","y":18.48},{"name":"120°C-6h-N-1.5","y":10.52},{"name":"120°C-4h-A-1","y":2.97}
   ]},
   "mark": {"type": "text", "align": "left", "baseline": "middle", "fontSize": 21.5, "color": "#000"},
   "encoding": {
    "x": {"datum": 442, "type": "quantitative", "axis": {"orient": "top", "values": [400, 300, 200, 100], "tickSize": -8, "tickWidth": 3, "tickColor": "#000", "domainColor": "#000", "domainWidth": 4, "grid": false, "labels": false, "title": null}},
    "y": {"field": "y", "type": "quantitative", "axis": null},
    "text": {"field": "name", "type": "nominal"}
   }
  },
  {
   "data": {"values": [{"edge": 88, "lo": 0, "hi": 72}]},
   "mark": {"type": "rule", "color": "#9a9a9a", "strokeWidth": 2, "strokeDash": [5, 4]},
   "encoding": {
    "x": {"field": "edge", "type": "quantitative", "axis": {"orient": "bottom", "values": [440, 420, 380, 360, 340, 320, 280, 260, 240, 220, 180, 160, 140, 120], "tickSize": -4, "tickWidth": 2.5, "tickColor": "#000", "domain": false, "grid": false, "labels": false, "title": null}},
    "y": {"field": "lo", "type": "quantitative", "axis": null},
    "y2": {"field": "hi"}
   }
  },
  {
   "data": {"values": [{"edge": 88, "lo": 0, "hi": 72}]},
   "mark": {"type": "rule", "strokeOpacity": 0},
   "encoding": {
    "x": {"field": "edge", "type": "quantitative", "axis": {"orient": "top", "values": [440, 420, 380, 360, 340, 320, 280, 260, 240, 220, 180, 160, 140, 120], "tickSize": -4, "tickWidth": 2.5, "tickColor": "#000", "domain": false, "grid": false, "labels": false, "title": null}},
    "y": {"field": "lo", "type": "quantitative", "axis": null},
    "y2": {"field": "hi"}
   }
  }
 ]
}
]
}
